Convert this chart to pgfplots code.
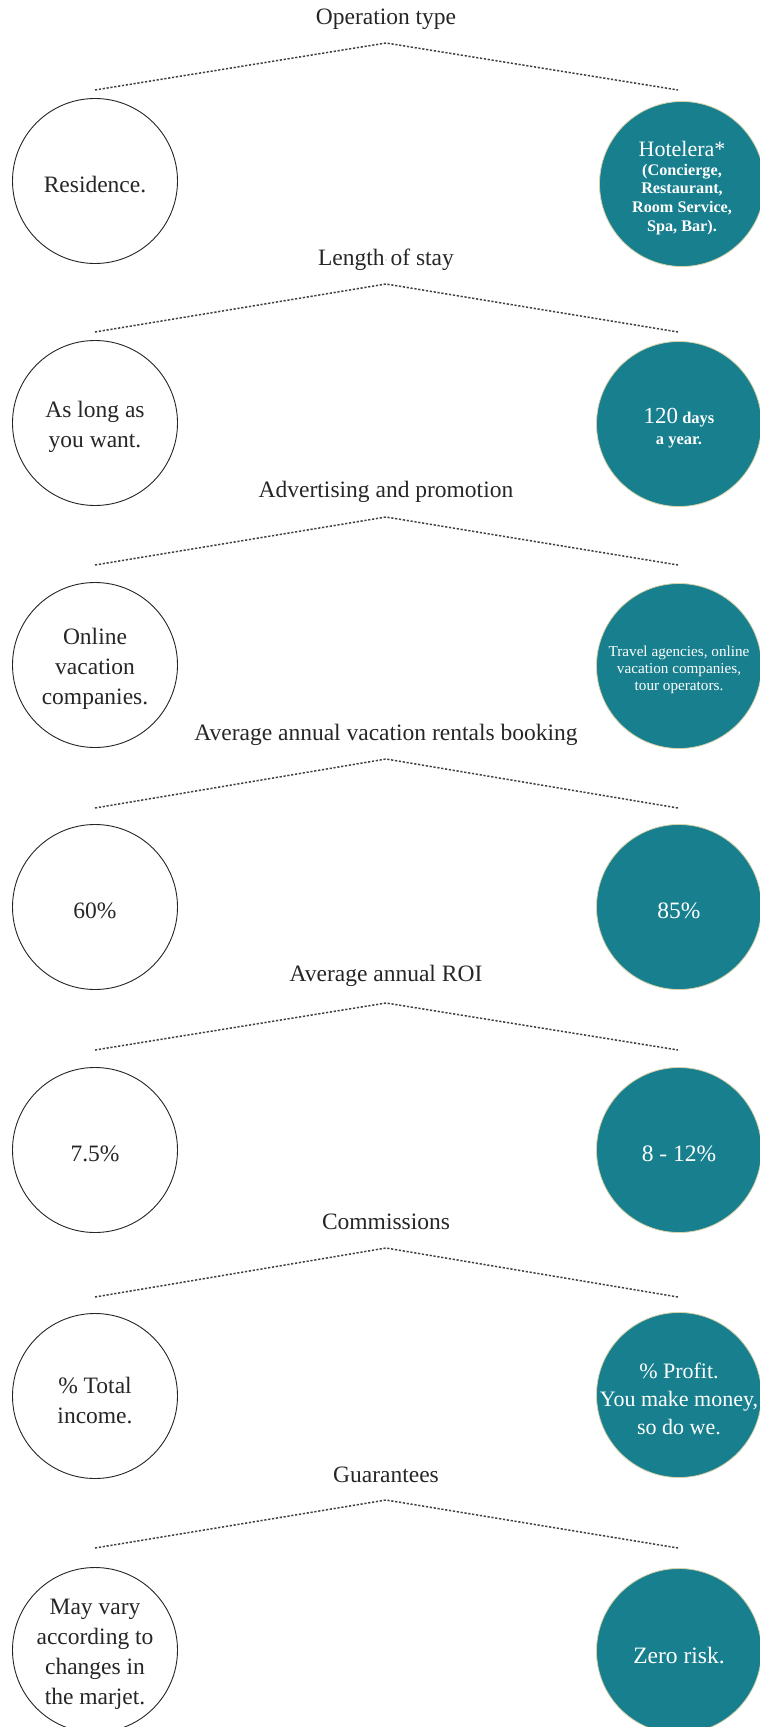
\documentclass[border=0pt]{standalone}
\usepackage{pgfplots}
\pgfplotsset{compat=1.18}
\usepackage{fontspec}
\setmainfont{Liberation Serif}
\definecolor{tealc}{HTML}{177F8E}
\definecolor{ringc}{HTML}{D8D2A8}
\definecolor{dotc}{HTML}{404040}
\definecolor{txt}{HTML}{262626}
\newcommand{\fs}[2]{\fontsize{#1bp}{#2bp}\selectfont}
\pgfplotsset{
  lcirc/.style={only marks, mark=*, mark size=82.5bp,
    mark options={draw=black!85, fill=white, line width=0.9bp},
    every node near coord/.append style={anchor=center, align=center, text=txt, yshift=-4bp}},
  rcirc/.style={only marks, mark=*, mark size=82.5bp,
    mark options={draw=ringc, fill=tealc, line width=0.8bp},
    every node near coord/.append style={anchor=center, align=center, text=white, yshift=-4bp}},
  dots/.style={mark=none, color=dotc, line width=1.5bp, dash pattern=on 2.2bp off 1.7bp},
}
\newcommand{\lc}[4]{\addplot[lcirc, nodes near coords={#4}, every node near coord/.append style={font={#3}}] coordinates {(#1,#2)};}
\newcommand{\rc}[4]{\addplot[rcirc, nodes near coords={#4}, every node near coord/.append style={font={#3}}] coordinates {(#1,#2)};}
\newcommand{\ttl}[3]{\addplot[only marks, mark=*, mark size=0.1bp, mark options={draw=none, fill=none}, nodes near coords={#3}, every node near coord/.append style={anchor=center, font={\fs{23.5}{28}}, text=txt}] coordinates {(#1,#2)};}
\begin{document}
\begin{tikzpicture}
\begin{axis}[x=1bp, y=1bp, y dir=reverse, xmin=0, xmax=760, ymin=0, ymax=1727,
  hide axis, clip=true, clip marker paths=true, clip bounding box=upper bound]
\addplot[draw=none, mark=none] coordinates {(0,0) (760,1727)};
% 1
\ttl{386}{19}{Operation type}
\addplot[dots] coordinates {(95,90) (386,43) (678,90)};
\lc{95}{181}{\fs{23.5}{30}}{Residence.}
\rc{682}{184}{\fs{16.2}{18.7}\bfseries}{{\mdseries\fs{22}{24}Hotelera*}\\(Concierge,\\Restaurant,\\Room Service,\\Spa, Bar).}
% 2
\ttl{386}{260}{Length of stay}
\addplot[dots] coordinates {(95,332) (386,284) (678,332)};
\lc{95}{423}{\fs{23.5}{30}}{As long as\\you want.}
\rc{679}{424}{\fs{16.5}{21}\bfseries}{{\mdseries\fs{23}{26}120} days\\a year.}
% 3
\ttl{386}{492}{Advertising and promotion}
\addplot[dots] coordinates {(95,565) (386,517) (678,565)};
\lc{95}{665}{\fs{23.5}{30}}{Online\\vacation\\companies.}
\rc{679}{666}{\fs{15.2}{17}}{Travel agencies, online\\vacation companies,\\tour operators.}
% 4
\ttl{386}{735}{Average annual vacation rentals booking}
\addplot[dots] coordinates {(95,808) (386,759) (678,808)};
\lc{95}{907}{\fs{23.5}{30}}{60\%}
\rc{679}{907}{\fs{23.5}{30}}{85\%}
% 5
\ttl{386}{976}{Average annual ROI}
\addplot[dots] coordinates {(95,1050) (386,1003) (678,1050)};
\lc{95}{1150}{\fs{23.5}{30}}{7.5\%}
\rc{679}{1150}{\fs{23.5}{30}}{8 - 12\%}
% 6
\ttl{386}{1222}{Commissions}
\addplot[dots] coordinates {(95,1297) (386,1248) (678,1297)};
\lc{95}{1396}{\fs{23.5}{30}}{\% Total\\income.}
\rc{679}{1395}{\fs{22}{28}}{\% Profit.\\You make money,\\so do we.}
% 7
\ttl{386}{1475}{Guarantees}
\addplot[dots] coordinates {(95,1548) (386,1500) (678,1548)};
\lc{95}{1650}{\fs{23.5}{30}}{May vary\\according to\\changes in\\the marjet.}
\rc{679}{1651}{\fs{23.5}{30}}{Zero risk.}
\end{axis}
\end{tikzpicture}
\end{document}
